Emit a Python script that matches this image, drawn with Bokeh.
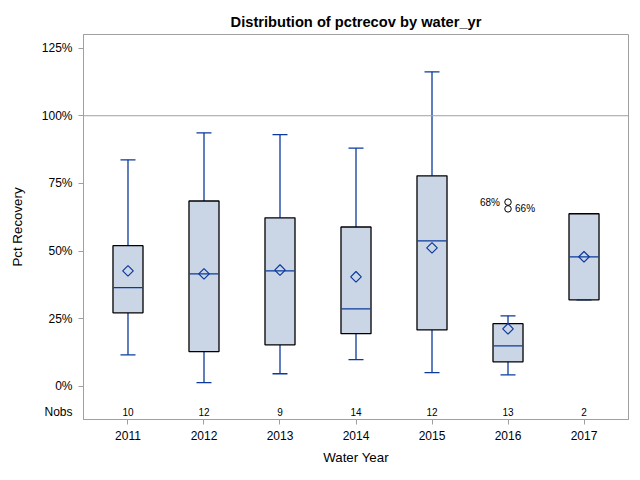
import numpy as np
from bokeh.plotting import figure
from bokeh.models import (ColumnDataSource, FactorRange, Whisker, TeeHead, Span,
                          FixedTicker, CustomJSTickFormatter)
from bokeh.embed import file_html
from bokeh.resources import INLINE

# ---- data ----
years = ["2011", "2012", "2013", "2014", "2015", "2016", "2017"]
whisker_hi = [83.7, 93.7, 93.0, 88.0, 116.2, 26.1, 63.8]
q3 = [52.0, 68.5, 62.3, 58.9, 77.8, 23.2, 63.8]
median = [36.5, 41.6, 42.7, 28.7, 53.8, 15.0, 47.9]
q1 = [27.2, 12.9, 15.4, 19.5, 20.9, 9.1, 32.0]
whisker_lo = [11.7, 1.4, 4.7, 9.9, 5.1, 4.3, 32.0]
mean = [42.7, 41.6, 43.0, 40.5, 51.2, 21.3, 47.9]
nobs = [10, 12, 9, 14, 12, 13, 2]
outlier_year = ["2016", "2016"]
outlier_val = [68.1, 65.6]
outlier_label = ["68%", "66%"]
y_ticks = [0, 25, 50, 75, 100, 125]

FONT = "Liberation Sans"
BLUE = "#0b3a9c"
FILL = "#cad5e5"
GRAY = "#a0a0a0"
NOBS_Y = -9.3

src = ColumnDataSource(dict(yr=years, hi=whisker_hi, q3=q3, med=median, q1=q1,
                            lo=whisker_lo, mean=mean,
                            nobs_txt=[str(n) for n in nobs],
                            nobs_y=[NOBS_Y] * len(years)))

p = figure(width=632, height=472, output_backend="svg", toolbar_location=None,
           x_range=FactorRange(factors=years, range_padding=0.0244),
           y_range=(-12.19, 130.0),
           min_border_left=83, min_border_right=4, min_border_top=34, min_border_bottom=53,
           title="Distribution of pctrecov by water_yr")

p.title.align = "center"
p.title.text_font = FONT
p.title.text_font_size = "14.67px"
p.title.text_font_style = "bold"
p.title.text_color = "black"
p.title.standoff = 9

p.xgrid.visible = False
p.ygrid.visible = False
p.outline_line_color = GRAY
p.outline_line_width = 1

for ax in (p.xaxis[0], p.yaxis[0]):
    ax.axis_line_color = GRAY
    ax.major_tick_line_color = GRAY
    ax.major_tick_in = 0
    ax.major_tick_out = 5
    ax.minor_tick_line_color = None
    ax.major_label_text_font = FONT
    ax.major_label_text_font_size = "12px"
    ax.major_label_text_color = "black"
    ax.axis_label_text_font = FONT
    ax.axis_label_text_font_size = "13.33px"
    ax.axis_label_text_font_style = "normal"
    ax.axis_label_text_color = "black"
    ax.major_label_standoff = 6

p.xaxis.axis_label = "Water Year"
p.xaxis.axis_label_standoff = 7

# y axis: percent ticks drawn as (minor) tick marks, plus an unmarked "Nobs" label row
p.yaxis.axis_label = "Pct Recovery"
p.yaxis.axis_label_standoff = 14
p.yaxis.ticker = FixedTicker(ticks=[NOBS_Y] + y_ticks, minor_ticks=y_ticks)
p.yaxis.major_tick_line_color = None
p.yaxis.minor_tick_line_color = GRAY
p.yaxis.minor_tick_in = 0
p.yaxis.minor_tick_out = 5
p.yaxis.formatter = CustomJSTickFormatter(
    code="return tick < 0 ? 'Nobs' : tick.toFixed(0) + '%';")

# reference line at 100%
p.add_layout(Span(location=100, dimension="width", line_color=GRAY, line_width=1))

# boxes
p.vbar(x="yr", top="q3", bottom="q1", width=0.395, source=src,
       fill_color=FILL, line_color="black", line_width=1.3)
# median
p.vbar(x="yr", top="med", bottom="med", width=0.38, source=src,
       fill_color=None, line_color=BLUE, line_width=1.3)

# whiskers
p.add_layout(Whisker(base="yr", upper="hi", lower="q3", source=src,
                     line_color=BLUE, line_width=1.3,
                     upper_head=TeeHead(size=15, line_color=BLUE, line_width=1.3),
                     lower_head=None))
p.add_layout(Whisker(base="yr", upper="q1", lower="lo", source=src,
                     line_color=BLUE, line_width=1.3,
                     lower_head=TeeHead(size=15, line_color=BLUE, line_width=1.3),
                     upper_head=None))

# mean diamonds
p.scatter(x="yr", y="mean", source=src, marker="square", angle=np.pi / 4, size=7.5,
          fill_color=None, line_color=BLUE, line_width=1.2)

# outliers
out_src = ColumnDataSource(dict(x=outlier_year, y=outlier_val, lab=outlier_label))
p.scatter(x="x", y="y", source=out_src, marker="circle", size=6.5,
          fill_color=None, line_color="black", line_width=1)
lab_l = ColumnDataSource(dict(x=outlier_year[:1], y=outlier_val[:1], lab=outlier_label[:1]))
lab_r = ColumnDataSource(dict(x=outlier_year[1:], y=outlier_val[1:], lab=outlier_label[1:]))
p.text(x="x", y="y", text="lab", source=lab_l, x_offset=-8, text_align="right",
       text_baseline="middle", text_font_size="10px", text_color="black",
       text_font={"value": FONT})
p.text(x="x", y="y", text="lab", source=lab_r, x_offset=7, text_align="left",
       text_baseline="middle", text_font_size="10px", text_color="black",
       text_font={"value": FONT})

# Nobs row
p.text(x="yr", y="nobs_y", text="nobs_txt", source=src, text_align="center",
       text_baseline="middle", text_font_size="10px", text_color="black",
       text_font={"value": FONT})

open("out.html", "w").write(file_html(p, INLINE))
